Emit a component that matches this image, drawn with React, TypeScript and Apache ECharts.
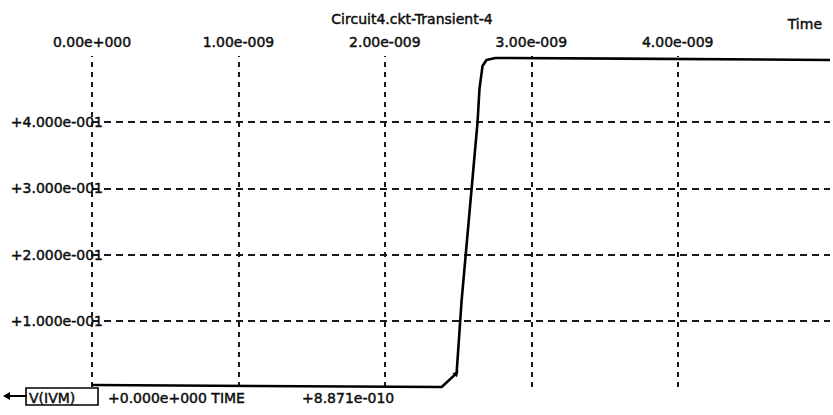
import React, { useEffect, useRef } from "react";
import * as echarts from "echarts";

// Transient response of V(IVM) in Circuit4.ckt (time kept in nanoseconds)
const TITLE = "Circuit4.ckt-Transient-4";
const X_NAME = "Time";
const TIME_NS = [0, 2.388, 2.49, 2.524, 2.633, 2.646, 2.667, 2.694, 2.755, 3.6, 5.04];
const V_IVM = [0.003, 0, 0.021, 0.13, 0.4, 0.45, 0.485, 0.494, 0.497, 0.496, 0.494];
const X_TICKS_NS = [0, 1, 2, 3, 4];
const Y_TICKS = [0.1, 0.2, 0.3, 0.4];
const TRACE_NAME = "V(IVM)";
const CURSOR_TEXT = "+0.000e+000 TIME";
const CURSOR_VALUE = "+8.871e-010";

const FONT = '14px "DejaVu Sans", sans-serif';
const INK = "#0d0d0d";
const GRID_INK = "#1a1a1a";
const HEAVY = 0.45; // thin outline to give the plotter text some weight

// SPICE-style scientific notation: 1.00e-009, +4.000e-001
function sci(v: number, digits: number, plus: boolean): string {
  let exp = 0;
  let mant = 0;
  if (v !== 0) {
    exp = Math.floor(Math.log10(Math.abs(v)));
    mant = v / Math.pow(10, exp);
    if (Math.abs(Number(mant.toFixed(digits))) >= 10) {
      exp += 1;
      mant = v / Math.pow(10, exp);
    }
  }
  const sign = plus && v >= 0 ? "+" : "";
  return sign + mant.toFixed(digits) + "e" + (exp < 0 ? "-" : "+") + String(Math.abs(exp)).padStart(3, "0");
}

const near = (list: number[], v: number, eps: number) => list.some((t) => Math.abs(t - v) < eps);

const textEl = (x: number, y: number, text: string, align: string) => ({
  type: "text",
  x,
  y,
  style: { text, font: FONT, fill: INK, stroke: INK, lineWidth: HEAVY, align, verticalAlign: "middle" },
});

export default function App() {
  const ref = useRef<HTMLDivElement>(null);

  useEffect(() => {
    if (!ref.current) return;
    const chart = echarts.init(ref.current, null, { renderer: "svg" });
    const data = TIME_NS.map((t, i) =>
      i === 2
        ? { value: [t, V_IVM[i]], symbol: "triangle", symbolSize: 6, symbolRotate: -40 }
        : { value: [t, V_IVM[i]] }
    );

    const labelStyle = {
      color: INK,
      fontFamily: '"DejaVu Sans", sans-serif',
      fontSize: 14,
      textBorderColor: INK,
      textBorderWidth: HEAVY,
    };

    chart.setOption({
      animation: false,
      backgroundColor: "#ffffff",
      grid: { left: 92, right: 0, top: 56, bottom: 28, containLabel: false },
      xAxis: {
        type: "value",
        position: "top",
        min: 0,
        max: 5.04,
        interval: 1,
        axisLine: { show: false },
        axisTick: { show: false },
        splitLine: { show: false },
        axisLabel: {
          ...labelStyle,
          margin: 7,
          formatter: (v: number) => (near(X_TICKS_NS, v, 1e-6) ? sci(v * 1e-9, 2, false) : ""),
        },
      },
      yAxis: {
        type: "value",
        min: 0,
        max: 0.5,
        interval: 0.1,
        axisLine: { show: false },
        axisTick: { show: false },
        splitLine: {
          show: true,
          showMinLine: false,
          showMaxLine: false,
          lineStyle: { color: GRID_INK, width: 2, type: [7, 5] },
        },
        axisLabel: {
          ...labelStyle,
          margin: -11,
          formatter: (v: number) => (near(Y_TICKS, v, 1e-6) ? sci(v, 3, true) : ""),
        },
      },
      series: [
        {
          type: "line",
          name: TRACE_NAME,
          data,
          symbol: "none",
          showSymbol: true,
          clip: false,
          itemStyle: { color: "#000" },
          lineStyle: { color: "#000", width: 2.6 },
          markLine: {
            silent: true,
            symbol: ["none", "none"],
            label: { show: false },
            lineStyle: { color: GRID_INK, width: 2, type: [5, 5] },
            data: X_TICKS_NS.map((x) => ({ xAxis: x })),
          },
          z: 5,
        },
      ],
      graphic: [
        textEl(412, 19, TITLE, "center"),
        textEl(822, 24, X_NAME, "right"),
        // trace legend: arrow, boxed name, cursor readouts
        { type: "line", shape: { x1: 8, y1: 396, x2: 27, y2: 396 }, style: { stroke: "#000", lineWidth: 2 } },
        { type: "polygon", shape: { points: [[3, 396], [10, 392], [10, 400]] }, style: { fill: "#000" } },
        { type: "rect", shape: { x: 26, y: 388, width: 72, height: 17 }, style: { fill: "none", stroke: "#000", lineWidth: 1.6 } },
        textEl(29, 398, TRACE_NAME, "left"),
        textEl(108, 398, CURSOR_TEXT, "left"),
        textEl(302, 398, CURSOR_VALUE, "left"),
      ],
    });

    return () => chart.dispose();
  }, []);

  return (
    <div
      ref={ref}
      style={{ position: "fixed", left: 0, top: 0, width: 833, height: 415, background: "#fff" }}
    />
  );
}
